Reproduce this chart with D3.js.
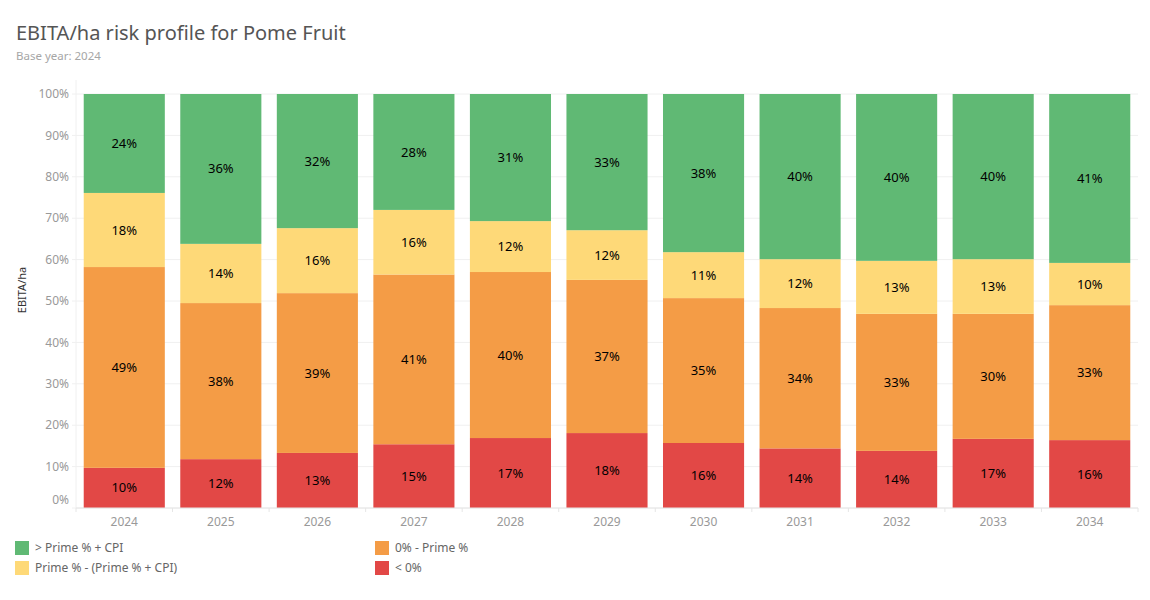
<!DOCTYPE html>
<html>
<head>
<meta charset="utf-8">
<script src="https://cdn.jsdelivr.net/npm/d3@7.9.0/dist/d3.min.js"></script>
<style>
  body { margin: 0; background: #fff; font-family: "Noto Sans", Lato, sans-serif; }
  svg text { font-family: "Noto Sans", Lato, sans-serif; }
</style>
</head>
<body>
<svg width="1150" height="600"></svg>
<script>
// data (percent of hectares)
const years = ['2024', '2025', '2026', '2027', '2028', '2029', '2030', '2031', '2032', '2033', '2034'];
const below0 = [9.7, 11.8, 13.3, 15.4, 16.9, 18.1, 15.7, 14.4, 13.8, 16.7, 16.4];
const zeroToPrime = [48.5, 37.7, 38.6, 41.0, 40.1, 37.0, 35.0, 33.9, 33.1, 30.2, 32.6];
const primeToCpi = [17.9, 14.3, 15.7, 15.6, 12.3, 12.0, 11.1, 11.8, 12.8, 13.2, 10.2];
const aboveCpi = [23.9, 36.2, 32.4, 28.0, 30.7, 32.9, 38.2, 39.9, 40.3, 39.9, 40.8];
const yTicks = [0, 10, 20, 30, 40, 50, 60, 70, 80, 90, 100];

const seriesNames = ['< 0%', '0% - Prime %', 'Prime % - (Prime % + CPI)', '> Prime % + CPI'];
const seriesColors = ['#e24846', '#f49c46', '#fed978', '#60b974'];

let rows = years.map((y, i) => ({
  year: y,
  s0: below0[i], s1: zeroToPrime[i], s2: primeToCpi[i], s3: aboveCpi[i]
}));
let stacked = d3.stack().keys(['s0', 's1', 's2', 's3'])(rows);

const svg = d3.select('svg');
const plotLeft = 76, plotRight = 1138, plotTop = 94, plotBottom = 508;

let x = d3.scaleBand().domain(years).range([plotLeft, plotRight]).paddingInner(0.16).paddingOuter(0.08);
let y = d3.scaleLinear().domain([0, 100]).range([plotBottom, plotTop]);

// title
svg.append('text').attr('x', 16).attr('y', 40).attr('font-size', 20)
  .attr('fill', '#555').text('EBITA/ha risk profile for Pome Fruit');
svg.append('text').attr('x', 16).attr('y', 60).attr('font-size', 11.5)
  .attr('fill', '#a6a6a6').text('Base year: 2024');

// gridlines
svg.append('g').selectAll('line').data(yTicks).join('line')
  .attr('x1', plotLeft - 4).attr('x2', plotRight)
  .attr('y1', d => y(d)).attr('y2', d => y(d))
  .attr('stroke', '#f0f0f0').attr('stroke-width', 1);

// left axis line
svg.append('line').attr('x1', plotLeft).attr('x2', plotLeft).attr('y1', 80).attr('y2', plotBottom)
  .attr('stroke', '#f0f0f0');

// y tick labels (Tableau nudges the 0% one up)
svg.append('g').selectAll('text').data(yTicks).join('text')
  .attr('x', 69).attr('y', d => d === 0 ? y(d) - 8 : y(d))
  .attr('dy', '0.35em').attr('text-anchor', 'end')
  .attr('font-size', 12).attr('fill', '#999')
  .text(d => d + '%');

svg.append('text').attr('transform', 'translate(26,290) rotate(-90)')
  .attr('text-anchor', 'middle').attr('font-size', 11).attr('fill', '#333')
  .text('EBITA/ha');

// bars
stacked.forEach((layer, k) => {
  svg.append('g').selectAll('rect').data(layer).join('rect')
    .attr('x', d => x(d.data.year))
    .attr('width', x.bandwidth())
    .attr('y', d => y(d[1]))
    .attr('height', d => y(d[0]) - y(d[1]))
    .attr('fill', seriesColors[k]);
  svg.append('g').selectAll('text').data(layer).join('text')
    .attr('x', d => x(d.data.year) + x.bandwidth() / 2)
    .attr('y', d => (y(d[0]) + y(d[1])) / 2)
    .attr('dy', '0.35em').attr('text-anchor', 'middle')
    .attr('font-size', 13).attr('fill', '#000')
    .text(d => Math.round(d[1] - d[0]) + '%');
});

// x axis
svg.append('line').attr('x1', plotLeft).attr('x2', plotRight).attr('y1', plotBottom).attr('y2', plotBottom)
  .attr('stroke', '#e6e6e6');
let seps = years.map(yr => x(yr) - x.step() * x.paddingInner() / 2).concat([plotRight]);
svg.append('g').selectAll('line').data(seps).join('line')
  .attr('x1', d => d).attr('x2', d => d).attr('y1', plotBottom).attr('y2', plotBottom + 4)
  .attr('stroke', '#e6e6e6');
svg.append('g').selectAll('text').data(years).join('text')
  .attr('x', d => x(d) + x.bandwidth() / 2).attr('y', 522)
  .attr('dy', '0.35em').attr('text-anchor', 'middle')
  .attr('font-size', 12).attr('fill', '#999').text(d => d);

// legend
const legendItems = [
  { name: seriesNames[3], color: seriesColors[3], col: 0, row: 0 },
  { name: seriesNames[1], color: seriesColors[1], col: 1, row: 0 },
  { name: seriesNames[2], color: seriesColors[2], col: 0, row: 1 },
  { name: seriesNames[0], color: seriesColors[0], col: 1, row: 1 }
];
let lg = svg.append('g').selectAll('g').data(legendItems).join('g')
  .attr('transform', d => `translate(${15 + d.col * 360},${541 + d.row * 20})`);
lg.append('rect').attr('width', 14).attr('height', 14).attr('fill', d => d.color);
lg.append('text').attr('x', 20).attr('y', 7).attr('dy', '0.35em')
  .attr('font-size', 12).attr('fill', '#666').text(d => d.name);
</script>
</body>
</html>
